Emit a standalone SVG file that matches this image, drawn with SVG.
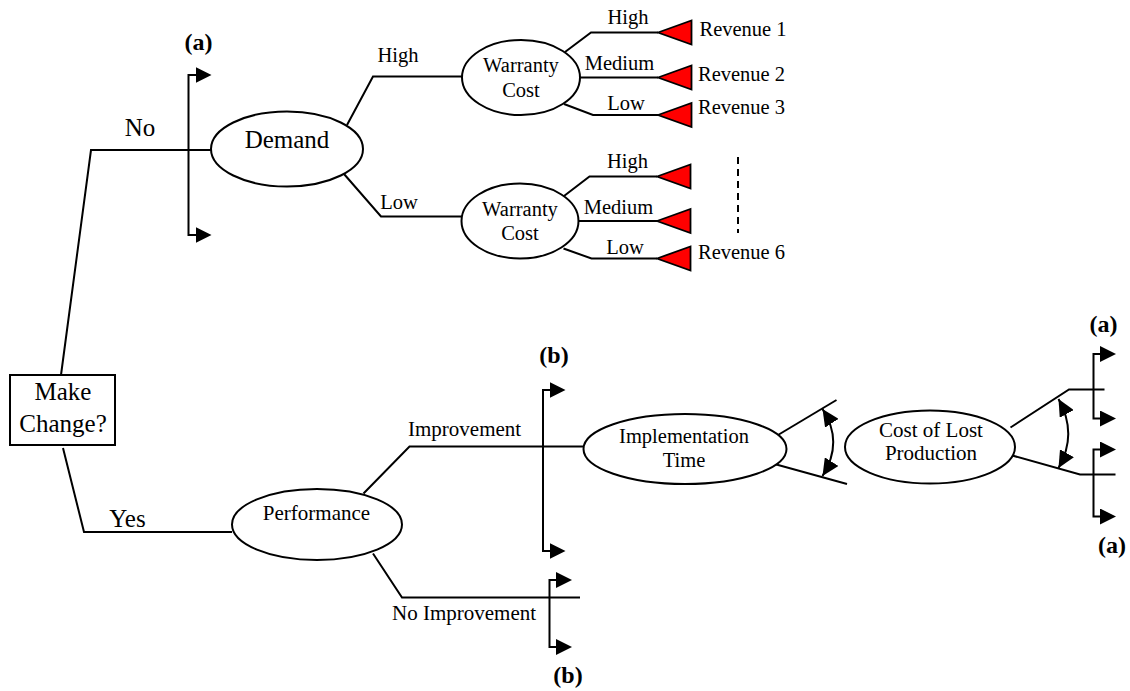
<svg xmlns="http://www.w3.org/2000/svg" width="1130" height="691" viewBox="0 0 1130 691">
  <style>
    .bg { fill: #ffffff; }
    .ln { fill: none; stroke: #000; stroke-width: 2; }
    .node { fill: #ffffff; stroke: #000; stroke-width: 2; }
    .tri { fill: #ff0000; stroke: #000; stroke-width: 1.8; stroke-linejoin: miter; }
    .t { font-family: "Liberation Serif", "Times New Roman", serif; fill: #000; }
    .c { text-anchor: middle; }
    .big { font-size: 25px; }
    .mid { font-size: 21px; }
    .sm { font-size: 20.5px; }
    .tag { font-size: 24px; font-weight: bold; text-anchor: middle; }
    .fork { marker-start: url(#head); marker-end: url(#head); }
    .swing { marker-start: url(#arc-head); marker-end: url(#arc-head); }
  </style>
  <defs>
    <!-- filled head for the continuation forks -->
    <marker id="head" markerUnits="userSpaceOnUse" viewBox="0 0 16 16" markerWidth="16" markerHeight="16" refX="0.5" refY="8" orient="auto-start-reverse">
      <path d="M0,0 L16,8 L0,16 z" fill="#000"/>
    </marker>
    <!-- head for the curved range arrows -->
    <marker id="arc-head" markerUnits="userSpaceOnUse" viewBox="0 0 17 16" markerWidth="17" markerHeight="16" refX="17" refY="8" orient="auto-start-reverse">
      <path d="M0,0 L17,8 L0,16 z" fill="#000"/>
    </marker>
    <!-- terminal payoff triangle, tip at origin -->
    <path id="payoff" d="M0,0 L33.5,-12 L33.5,12 z"/>
  </defs>

  <rect class="bg" x="0" y="0" width="1130" height="691"/>

  <g id="connectors">
    <!-- root decision -->
    <path class="ln" d="M61,375 L91,150 H211"/>
    <path class="ln" d="M63,448 L84,532 H232"/>
    <!-- fork (a) on the No branch -->
    <path class="ln fork" d="M196,75 H188.5 V235 H196"/>
    <!-- demand outcomes -->
    <path class="ln" d="M347,125 L373,76.5 H462"/>
    <path class="ln" d="M344,174 L381,216.5 H462"/>
    <!-- warranty cost outcomes, high demand -->
    <path class="ln" d="M565,52 L591,32.5 H658"/>
    <path class="ln" d="M580,77.5 H658"/>
    <path class="ln" d="M564,104 L593,115 H658"/>
    <!-- warranty cost outcomes, low demand -->
    <path class="ln" d="M564,196 L589.5,176.5 H657"/>
    <path class="ln" d="M578.5,221 H657"/>
    <path class="ln" d="M563.5,248.5 L591.5,258.5 H657"/>
    <!-- elided revenues -->
    <line class="ln" x1="738" y1="157" x2="738" y2="233" stroke-dasharray="7,5"/>
    <!-- performance outcomes -->
    <path class="ln" d="M363.5,493.5 L409.5,446.5 H584"/>
    <path class="ln" d="M373,553.5 L402,597.5 H580"/>
    <!-- forks (b) -->
    <path class="ln fork" d="M550,390 H543 V551 H550"/>
    <path class="ln fork" d="M556.5,580 H549.5 V647 H556.5"/>
    <!-- implementation time range -->
    <path class="ln" d="M778,435 L836.5,400"/>
    <path class="ln" d="M774.5,464 L847,484"/>
    <path class="ln swing" d="M822.5,409 Q844,442 822.5,476"/>
    <!-- cost of lost production range -->
    <path class="ln" d="M1010.5,427.5 L1069,389.5 H1104.5"/>
    <path class="ln" d="M1010.5,455 L1080,474.5 H1115.5"/>
    <path class="ln swing" d="M1058.5,399 Q1078,434 1058.5,468"/>
    <!-- forks (a) on the cost branches -->
    <path class="ln fork" d="M1100.5,354 H1093.5 V418.5 H1100.5"/>
    <path class="ln fork" d="M1100.5,449.5 H1093.5 V516.5 H1100.5"/>
  </g>

  <g id="payoffs">
    <use href="#payoff" class="tri" x="658" y="32.5"/>
    <use href="#payoff" class="tri" x="658" y="77.5"/>
    <use href="#payoff" class="tri" x="658" y="115"/>
    <use href="#payoff" class="tri" x="657" y="176.5"/>
    <use href="#payoff" class="tri" x="657" y="221"/>
    <use href="#payoff" class="tri" x="657" y="258.5"/>
  </g>

  <g id="make-change">
    <rect class="node" x="10" y="375" width="105" height="70" stroke-width="2.5"/>
    <text class="t c big" x="63" y="400">Make</text>
    <text class="t c big" x="63" y="431.5">Change?</text>
  </g>

  <g id="demand">
    <ellipse class="node" cx="287" cy="149" rx="76" ry="37.5"/>
    <text class="t c big" x="287" y="148">Demand</text>
  </g>

  <g id="warranty-high">
    <ellipse class="node" cx="521" cy="77.5" rx="59" ry="37.5"/>
    <text class="t c sm" x="521" y="72">Warranty</text>
    <text class="t c sm" x="521" y="97">Cost</text>
  </g>

  <g id="warranty-low">
    <ellipse class="node" cx="520" cy="221" rx="58.5" ry="37.5"/>
    <text class="t c sm" x="520" y="215.5">Warranty</text>
    <text class="t c sm" x="520" y="240">Cost</text>
  </g>

  <g id="performance">
    <ellipse class="node" cx="317" cy="524.5" rx="85" ry="35.5"/>
    <text class="t c mid" x="316.5" y="520">Performance</text>
  </g>

  <g id="implementation">
    <ellipse class="node" cx="685" cy="449" rx="101.5" ry="35"/>
    <text class="t c sm" x="684" y="443">Implementation</text>
    <text class="t c sm" x="684" y="466.5">Time</text>
  </g>

  <g id="lost-production">
    <ellipse class="node" cx="930" cy="447" rx="85" ry="36.5"/>
    <text class="t c mid" x="931" y="436.5">Cost of Lost</text>
    <text class="t c mid" x="931" y="460">Production</text>
  </g>

  <g id="labels">
    <text class="t tag" x="198.5" y="50">(a)</text>
    <text class="t tag" x="554" y="363">(b)</text>
    <text class="t tag" x="568" y="683">(b)</text>
    <text class="t tag" x="1103.5" y="331.5">(a)</text>
    <text class="t tag" x="1112" y="553">(a)</text>

    <text class="t c big" x="140" y="136">No</text>
    <text class="t c big" x="127.5" y="527">Yes</text>

    <text class="t c sm" x="398" y="62">High</text>
    <text class="t c sm" x="399" y="209">Low</text>

    <text class="t c sm" x="628" y="24">High</text>
    <text class="t c sm" x="619.5" y="69.5">Medium</text>
    <text class="t c sm" x="626" y="110">Low</text>
    <text class="t c sm" x="627.5" y="167.5">High</text>
    <text class="t c sm" x="618.5" y="214">Medium</text>
    <text class="t c sm" x="625" y="253.5">Low</text>

    <text class="t sm" x="699.5" y="36">Revenue 1</text>
    <text class="t sm" x="698" y="81">Revenue 2</text>
    <text class="t sm" x="698" y="114">Revenue 3</text>
    <text class="t sm" x="698" y="258.5">Revenue 6</text>

    <text class="t mid" x="408" y="436">Improvement</text>
    <text class="t mid" x="392" y="620">No Improvement</text>
  </g>
</svg>
